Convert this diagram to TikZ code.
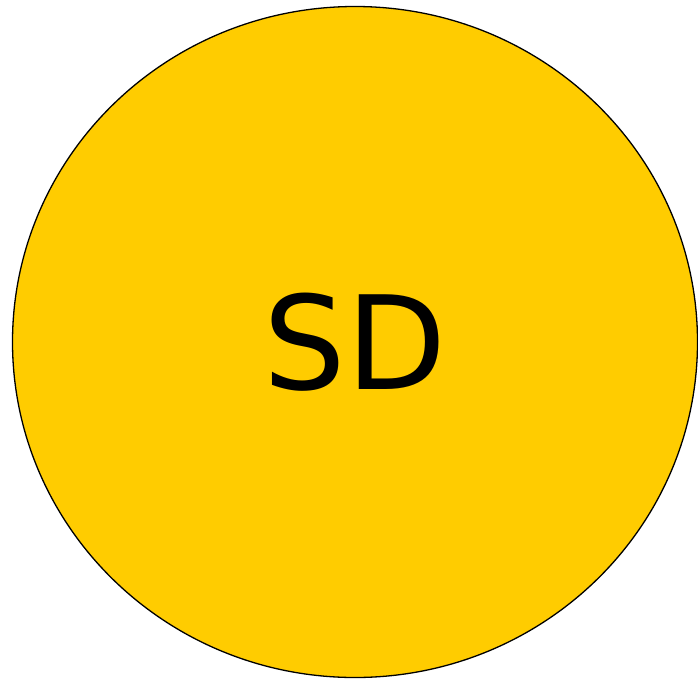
\documentclass[tikz,border=0pt]{standalone}
\usepackage{fontspec}
\setmainfont{DejaVu Sans}
\usetikzlibrary{shapes.geometric}
\definecolor{sdgold}{HTML}{FFCC00}
\tikzset{
    blob/.style={ellipse, draw=black, line width=1.3pt, fill=sdgold, inner sep=0pt,
        minimum width=685pt, minimum height=671pt, font=\fontsize{130}{130}\selectfont}
}
\begin{document}
\begin{tikzpicture}[x=1pt, y=-1pt]
    \useasboundingbox (0,0) rectangle (698,680);
    % the one ellipse
    \node [blob] (sd) at (355,342) {SD};
\end{tikzpicture}
\end{document}
